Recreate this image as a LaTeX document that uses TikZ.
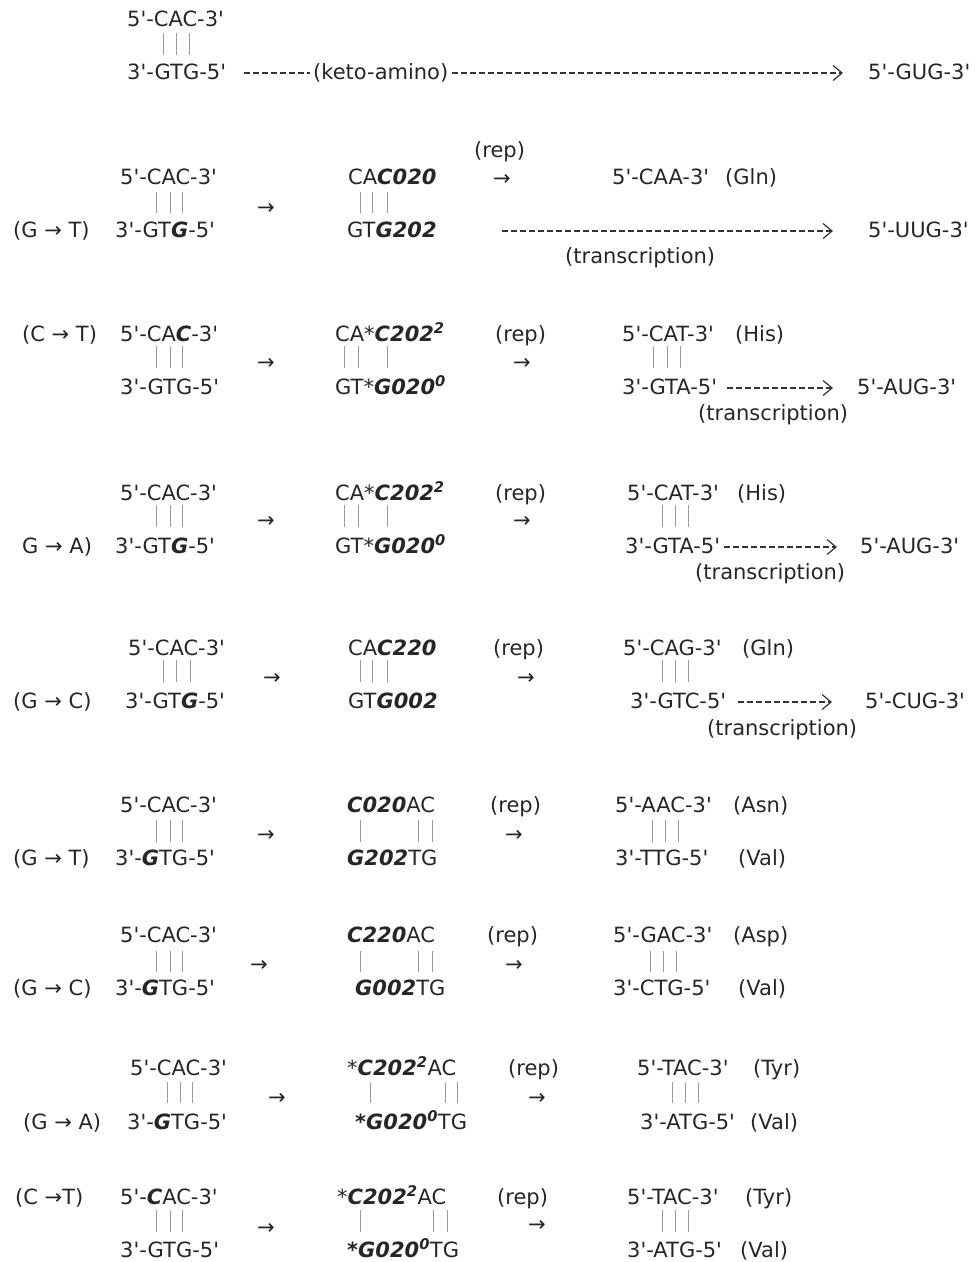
\documentclass[tikz,border=0pt]{standalone}
\usepackage{fontspec}
\setmainfont{DejaVu Sans}[Ligatures=TeXOff]
\usetikzlibrary{arrows.meta}
\newcommand\bfit[1]{{\bfseries\itshape #1}}
\begin{document}
\begin{tikzpicture}[x=1pt,y=-1pt,
  seq/.style={anchor=west, inner sep=0pt, text height=15pt, text depth=0pt,
              font=\fontsize{21}{25}\selectfont, text=black!85},
  pair/.style={draw=black!40, line width=0.9pt},
  dline/.style={draw=black!80, line width=1.1pt, dash pattern=on 6pt off 3pt},
  flow/.style={dline, -{Straight Barb[length=9pt,width=15pt,line width=1.2pt]}}]
\useasboundingbox (0,0) rectangle (977,1262);

% ---- keto-amino tautomer ----
\node[seq] (a0top) at (127,19) {5'-CAC-3'};
\node[seq] (a0bot) at (127,72) {3'-GTG-5'};
\node[seq] (a0keto) at (313,72) {(keto-amino)};
\node[seq] (a0rna) at (868,72) {5'-GUG-3'};
\foreach \x in {163,176,189} \draw[pair] (\x,33) -- (\x,55);
\draw[dline, shorten <=18pt, shorten >=3pt] ([yshift=-1pt]a0bot.east) -- ([yshift=-1pt]a0keto.west);
\draw[flow, shorten <=4pt, shorten >=25pt] ([yshift=-1pt]a0keto.east) -- ([yshift=-1pt]a0rna.west);

% ---- G -> T, imino at third position ----
\node[seq] (b1lab) at (13,230) {(G → T)};
\node[seq] (b1top) at (120,177) {5'-CAC-3'};
\node[seq] (b1bot) at (115,230) {3'-GT\bfit{G}-5'};
\foreach \x in {156,170,182} \draw[pair] (\x,192) -- (\x,213);
\node[seq] (b1arr) at (257,207) {→};
\node[seq] (b1mtop) at (348,177) {CA\bfit{C020}};
\node[seq] (b1mbot) at (347,230) {GT\bfit{G202}};
\foreach \x in {360,372,387} \draw[pair] (\x,192) -- (\x,213);
\node[seq] (b1rep) at (474,150) {(rep)};
\node[seq] (b1rarr) at (493,178) {→};
\node[seq] (b1ptop) at (612,177) {5'-CAA-3'};
\node[seq] (b1aa) at (725,177) {(Gln)};
\node[seq] (b1rna) at (868,230) {5'-UUG-3'};
\node[seq] (b1tr) at (565,256) {(transcription)};
\draw[flow, shorten <=65pt, shorten >=35pt] ([yshift=-1pt]b1mbot.east) -- ([yshift=-1pt]b1rna.west);

% ---- C -> T ----
\node[seq] (c2lab) at (22,334) {(C → T)};
\node[seq] (c2top) at (120,334) {5'-CA\bfit{C}-3'};
\node[seq] (c2bot) at (120,387) {3'-GTG-5'};
\foreach \x in {156,170,182} \draw[pair] (\x,346) -- (\x,368);
\node[seq] (c2arr) at (257,362) {→};
\node[seq] (c2mtop) at (335,334) {CA*\bfit{C202\textsuperscript{2}}};
\node[seq] (c2mbot) at (335,387) {GT*\bfit{G020\textsuperscript{0}}};
\foreach \x in {344,358,387} \draw[pair] (\x,346) -- (\x,368);
\node[seq] (c2rep) at (495,334) {(rep)};
\node[seq] (c2rarr) at (513,362) {→};
\node[seq] (c2ptop) at (622,334) {5'-CAT-3'};
\node[seq] (c2aa) at (735,334) {(His)};
\node[seq] (c2pbot) at (622,387) {3'-GTA-5'};
\foreach \x in {653,667,680} \draw[pair] (\x,346) -- (\x,368);
\node[seq] (c2rna) at (857,387) {5'-AUG-3'};
\node[seq] (c2tr) at (698,413) {(transcription)};
\draw[flow, shorten <=10pt, shorten >=24pt] ([yshift=-1pt]c2pbot.east) -- ([yshift=-1pt]c2rna.west);

% ---- G -> A ----
\node[seq] (d3lab) at (22,546) {G → A)};
\node[seq] (d3top) at (120,493) {5'-CAC-3'};
\node[seq] (d3bot) at (115,546) {3'-GT\bfit{G}-5'};
\foreach \x in {156,170,182} \draw[pair] (\x,505) -- (\x,527);
\node[seq] (d3arr) at (257,520) {→};
\node[seq] (d3mtop) at (335,493) {CA*\bfit{C202\textsuperscript{2}}};
\node[seq] (d3mbot) at (335,546) {GT*\bfit{G020\textsuperscript{0}}};
\foreach \x in {344,358,387} \draw[pair] (\x,505) -- (\x,527);
\node[seq] (d3rep) at (495,493) {(rep)};
\node[seq] (d3rarr) at (513,520) {→};
\node[seq] (d3ptop) at (627,493) {5'-CAT-3'};
\node[seq] (d3aa) at (737,493) {(His)};
\node[seq] (d3pbot) at (625,546) {3'-GTA-5'};
\foreach \x in {662,675,688} \draw[pair] (\x,505) -- (\x,527);
\node[seq] (d3rna) at (860,546) {5'-AUG-3'};
\node[seq] (d3tr) at (695,572) {(transcription)};
\draw[flow, shorten <=4pt, shorten >=23pt] ([yshift=-1pt]d3pbot.east) -- ([yshift=-1pt]d3rna.west);

% ---- G -> C, third position ----
\node[seq] (e4lab) at (13,701) {(G → C)};
\node[seq] (e4top) at (128,648) {5'-CAC-3'};
\node[seq] (e4bot) at (125,701) {3'-GT\bfit{G}-5'};
\foreach \x in {163,176,190} \draw[pair] (\x,660) -- (\x,682);
\node[seq] (e4arr) at (263,677) {→};
\node[seq] (e4mtop) at (348,648) {CA\bfit{C220}};
\node[seq] (e4mbot) at (348,701) {GT\bfit{G002}};
\foreach \x in {360,372,387} \draw[pair] (\x,660) -- (\x,682);
\node[seq] (e4rep) at (493,648) {(rep)};
\node[seq] (e4rarr) at (517,677) {→};
\node[seq] (e4ptop) at (623,648) {5'-CAG-3'};
\node[seq] (e4aa) at (742,648) {(Gln)};
\node[seq] (e4pbot) at (630,701) {3'-GTC-5'};
\foreach \x in {662,675,688} \draw[pair] (\x,660) -- (\x,682);
\node[seq] (e4rna) at (865,701) {5'-CUG-3'};
\node[seq] (e4tr) at (707,728) {(transcription)};
\draw[flow, shorten <=12pt, shorten >=33pt] ([yshift=-1pt]e4pbot.east) -- ([yshift=-1pt]e4rna.west);

% ---- G -> T, first position ----
\node[seq] (f5lab) at (13,858) {(G → T)};
\node[seq] (f5top) at (120,805) {5'-CAC-3'};
\node[seq] (f5bot) at (115,858) {3'-\bfit{G}TG-5'};
\foreach \x in {156,170,182} \draw[pair] (\x,820) -- (\x,842);
\node[seq] (f5arr) at (257,834) {→};
\node[seq] (f5mtop) at (347,805) {\bfit{C020}AC};
\node[seq] (f5mbot) at (347,858) {\bfit{G202}TG};
\foreach \x in {360,418,432} \draw[pair] (\x,820) -- (\x,842);
\node[seq] (f5rep) at (490,805) {(rep)};
\node[seq] (f5rarr) at (505,834) {→};
\node[seq] (f5ptop) at (615,805) {5'-AAC-3'};
\node[seq] (f5aa) at (733,805) {(Asn)};
\node[seq] (f5pbot) at (615,858) {3'-TTG-5'};
\node[seq] (f5ab) at (738,858) {(Val)};
\foreach \x in {652,665,678} \draw[pair] (\x,820) -- (\x,842);

% ---- G -> C, first position ----
\node[seq] (g6lab) at (13,988) {(G → C)};
\node[seq] (g6top) at (120,935) {5'-CAC-3'};
\node[seq] (g6bot) at (115,988) {3'-\bfit{G}TG-5'};
\foreach \x in {156,170,182} \draw[pair] (\x,951) -- (\x,972);
\node[seq] (g6arr) at (250,964) {→};
\node[seq] (g6mtop) at (347,935) {\bfit{C220}AC};
\node[seq] (g6mbot) at (355,988) {\bfit{G002}TG};
\foreach \x in {360,418,432} \draw[pair] (\x,951) -- (\x,972);
\node[seq] (g6rep) at (487,935) {(rep)};
\node[seq] (g6rarr) at (505,964) {→};
\node[seq] (g6ptop) at (613,935) {5'-GAC-3'};
\node[seq] (g6aa) at (733,935) {(Asp)};
\node[seq] (g6pbot) at (613,988) {3'-CTG-5'};
\node[seq] (g6ab) at (738,988) {(Val)};
\foreach \x in {650,663,676} \draw[pair] (\x,951) -- (\x,972);

% ---- G -> A, first position ----
\node[seq] (h7lab) at (23,1122) {(G → A)};
\node[seq] (h7top) at (130,1068) {5'-CAC-3'};
\node[seq] (h7bot) at (127,1122) {3'-\bfit{G}TG-5'};
\foreach \x in {167,180,192} \draw[pair] (\x,1082) -- (\x,1103);
\node[seq] (h7arr) at (268,1097) {→};
\node[seq] (h7mtop) at (347,1068) {*\bfit{C202\textsuperscript{2}}AC};
\node[seq] (h7mbot) at (355,1122) {\bfit{*G020\textsuperscript{0}}TG};
\foreach \x in {370,445,457} \draw[pair] (\x,1082) -- (\x,1103);
\node[seq] (h7rep) at (508,1068) {(rep)};
\node[seq] (h7rarr) at (528,1097) {→};
\node[seq] (h7ptop) at (637,1068) {5'-TAC-3'};
\node[seq] (h7aa) at (753,1068) {(Tyr)};
\node[seq] (h7pbot) at (640,1122) {3'-ATG-5'};
\node[seq] (h7ab) at (750,1122) {(Val)};
\foreach \x in {672,685,698} \draw[pair] (\x,1082) -- (\x,1103);

% ---- C -> T, first position ----
\node[seq] (i8lab) at (15,1197) {(C →T)};
\node[seq] (i8top) at (120,1197) {5'-\bfit{C}AC-3'};
\node[seq] (i8bot) at (120,1250) {3'-GTG-5'};
\foreach \x in {156,170,182} \draw[pair] (\x,1210) -- (\x,1232);
\node[seq] (i8arr) at (257,1227) {→};
\node[seq] (i8mtop) at (337,1197) {*\bfit{C202\textsuperscript{2}}AC};
\node[seq] (i8mbot) at (347,1250) {\bfit{*G020\textsuperscript{0}}TG};
\foreach \x in {360,433,447} \draw[pair] (\x,1210) -- (\x,1232);
\node[seq] (i8rep) at (497,1197) {(rep)};
\node[seq] (i8rarr) at (528,1224) {→};
\node[seq] (i8ptop) at (627,1197) {5'-TAC-3'};
\node[seq] (i8aa) at (745,1197) {(Tyr)};
\node[seq] (i8pbot) at (627,1250) {3'-ATG-5'};
\node[seq] (i8ab) at (740,1250) {(Val)};
\foreach \x in {662,675,688} \draw[pair] (\x,1210) -- (\x,1232);
\end{tikzpicture}
\end{document}
